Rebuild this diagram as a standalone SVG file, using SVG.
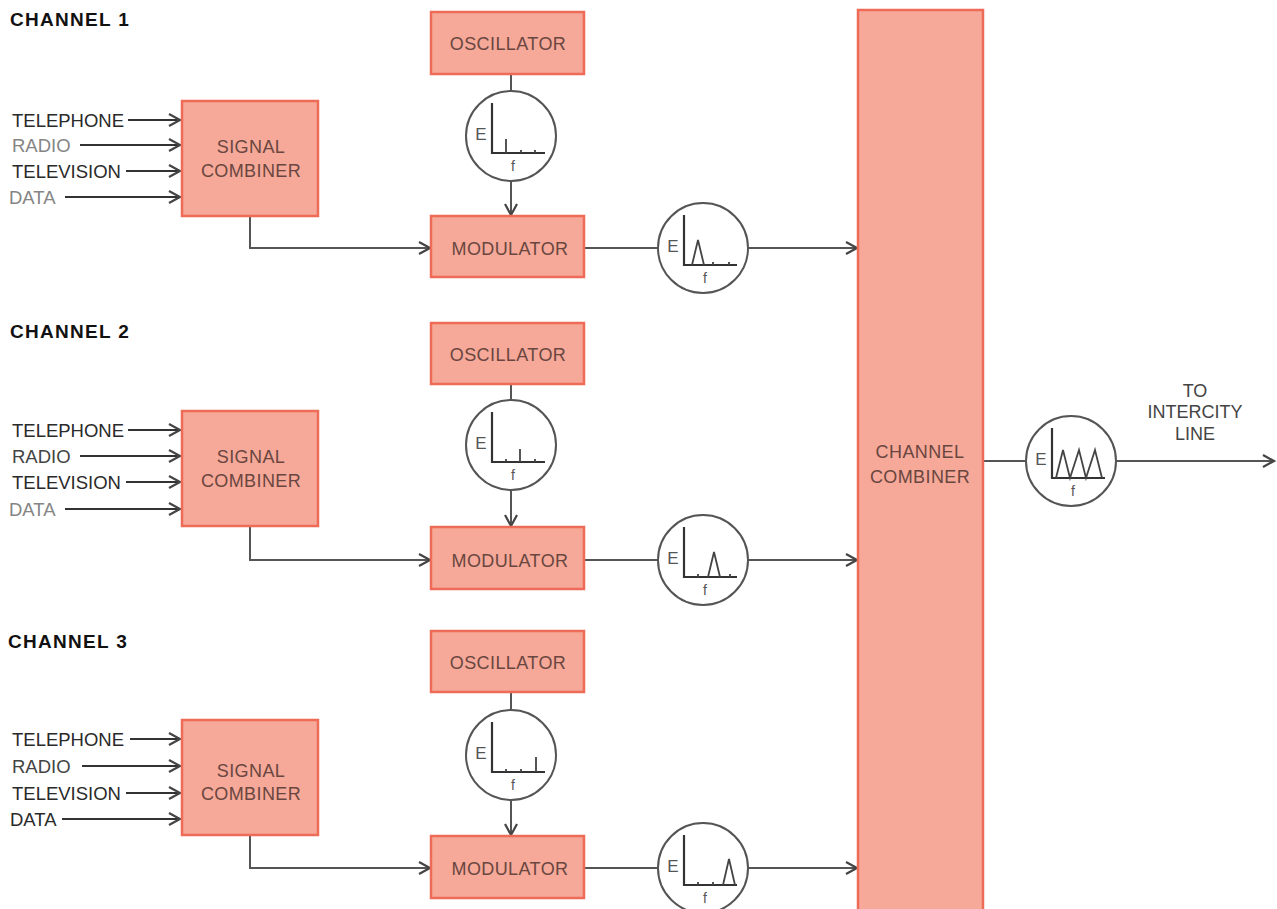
<svg xmlns="http://www.w3.org/2000/svg" width="1277" height="909" viewBox="0 0 1277 909">
<style>
.box{fill:#f6a999;stroke:#ee6b58;stroke-width:2.5}
.bt{font-family:"Liberation Sans",Arial,sans-serif;font-size:18px;fill:#6a4640;text-anchor:middle;letter-spacing:0.4px}
.ch{font-family:"Liberation Sans",Arial,sans-serif;font-size:19px;font-weight:bold;fill:#111;letter-spacing:1.3px}
.lb{font-family:"Liberation Sans",Arial,sans-serif;font-size:18.5px;fill:#2a2a2a}
.lg{fill:#858585}
.lm{fill:#444}
.in{stroke:#333;stroke-width:2.2;fill:none}
.cn{stroke:#555;stroke-width:2;fill:none}
.circ{fill:#fff;stroke:#555;stroke-width:2}
.ax{stroke:#333;stroke-width:2.2;fill:none}
.sp{stroke:#444;stroke-width:1.8;fill:none}
.e{font-family:"Liberation Sans",Arial,sans-serif;font-size:17px;fill:#555;text-anchor:middle}
.f{font-family:"Liberation Sans",Arial,sans-serif;font-size:14px;fill:#555;text-anchor:middle}
.out{font-family:"Liberation Sans",Arial,sans-serif;font-size:18px;fill:#444;text-anchor:middle}
</style>
<defs>
<marker id="ar" markerUnits="userSpaceOnUse" markerWidth="16" markerHeight="16" refX="12" refY="7" orient="auto">
<path d="M1,1 L12,7 L1,13" fill="none" stroke="#444" stroke-width="2.2"/>
</marker>
<g id="axes">
<circle class="circ" cx="0" cy="0" r="45"/>
<path class="ax" d="M-19,-33 V17 H34"/>
<text class="e" x="-30" y="4">E</text>
<text class="f" x="2" y="35">f</text>
</g>
</defs>
<rect width="1277" height="909" fill="#fff"/>

<g id="connectors">
<line class="in" x1="128" y1="120" x2="180" y2="120" marker-end="url(#ar)"/>
<line class="in" x1="80" y1="145" x2="180" y2="145" marker-end="url(#ar)"/>
<line class="in" x1="126" y1="171" x2="180" y2="171" marker-end="url(#ar)"/>
<line class="in" x1="65" y1="197" x2="180" y2="197" marker-end="url(#ar)"/>
<line class="in" x1="128" y1="430" x2="180" y2="430" marker-end="url(#ar)"/>
<line class="in" x1="80" y1="456" x2="180" y2="456" marker-end="url(#ar)"/>
<line class="in" x1="126" y1="482" x2="180" y2="482" marker-end="url(#ar)"/>
<line class="in" x1="65" y1="509" x2="180" y2="509" marker-end="url(#ar)"/>
<line class="in" x1="130" y1="739" x2="180" y2="739" marker-end="url(#ar)"/>
<line class="in" x1="82" y1="766" x2="180" y2="766" marker-end="url(#ar)"/>
<line class="in" x1="126" y1="793" x2="180" y2="793" marker-end="url(#ar)"/>
<line class="in" x1="62" y1="819" x2="180" y2="819" marker-end="url(#ar)"/>

<path class="cn" d="M250,217 V248 H430" marker-end="url(#ar)"/>
<path class="cn" d="M250,527 V560 H430" marker-end="url(#ar)"/>
<path class="cn" d="M250,836 V868 H430" marker-end="url(#ar)"/>
<line class="cn" x1="511" y1="74" x2="511" y2="95"/>
<line class="cn" x1="511" y1="180" x2="511" y2="215" marker-end="url(#ar)"/>
<line class="cn" x1="511" y1="384" x2="511" y2="405"/>
<line class="cn" x1="511" y1="489" x2="511" y2="526" marker-end="url(#ar)"/>
<line class="cn" x1="511" y1="692" x2="511" y2="713"/>
<line class="cn" x1="511" y1="798" x2="511" y2="835" marker-end="url(#ar)"/>
<line class="cn" x1="584" y1="248" x2="660" y2="248"/>
<line class="cn" x1="748" y1="248" x2="857" y2="248" marker-end="url(#ar)"/>
<line class="cn" x1="584" y1="560" x2="660" y2="560"/>
<line class="cn" x1="748" y1="560" x2="857" y2="560" marker-end="url(#ar)"/>
<line class="cn" x1="584" y1="868" x2="660" y2="868"/>
<line class="cn" x1="748" y1="868" x2="857" y2="868" marker-end="url(#ar)"/>
<line class="cn" x1="983" y1="461" x2="1026" y2="461"/>
<line class="cn" x1="1116" y1="461" x2="1274" y2="461" marker-end="url(#ar)"/>
</g>

<g id="ch1-label"><text class="ch" x="10" y="26">CHANNEL 1</text></g>
<g id="ch2-label"><text class="ch" x="10" y="338">CHANNEL 2</text></g>
<g id="ch3-label"><text class="ch" x="8" y="648">CHANNEL 3</text></g>

<g id="ch1-inputs">
<text class="lb" x="12" y="127">TELEPHONE</text>
<text class="lb lg" x="12" y="152">RADIO</text>
<text class="lb" x="12" y="178">TELEVISION</text>
<text class="lb lg" x="9" y="204">DATA</text>
</g>
<g id="ch2-inputs">
<text class="lb" x="12" y="437">TELEPHONE</text>
<text class="lb lm" x="12" y="463">RADIO</text>
<text class="lb" x="12" y="489">TELEVISION</text>
<text class="lb lg" x="9" y="516">DATA</text>
</g>
<g id="ch3-inputs">
<text class="lb" x="12" y="746">TELEPHONE</text>
<text class="lb lm" x="12" y="773">RADIO</text>
<text class="lb" x="12" y="800">TELEVISION</text>
<text class="lb" x="10" y="826">DATA</text>
</g>

<g id="sig1"><rect class="box" x="182" y="101" width="136" height="115"/><text class="bt" x="251" y="153">SIGNAL</text><text class="bt" x="251" y="177">COMBINER</text></g>
<g id="sig2"><rect class="box" x="182" y="411" width="136" height="115"/><text class="bt" x="251" y="463">SIGNAL</text><text class="bt" x="251" y="487">COMBINER</text></g>
<g id="sig3"><rect class="box" x="182" y="720" width="136" height="115"/><text class="bt" x="251" y="777">SIGNAL</text><text class="bt" x="251" y="800">COMBINER</text></g>

<g id="osc1"><rect class="box" x="431" y="12" width="153" height="62"/><text class="bt" x="508" y="50">OSCILLATOR</text></g>
<g id="osc2"><rect class="box" x="431" y="323" width="153" height="61"/><text class="bt" x="508" y="361">OSCILLATOR</text></g>
<g id="osc3"><rect class="box" x="431" y="631" width="153" height="61"/><text class="bt" x="508" y="669">OSCILLATOR</text></g>

<g id="mod1"><rect class="box" x="431" y="216" width="153" height="61"/><text class="bt" x="510" y="255">MODULATOR</text></g>
<g id="mod2"><rect class="box" x="431" y="527" width="153" height="62"/><text class="bt" x="510" y="567">MODULATOR</text></g>
<g id="mod3"><rect class="box" x="431" y="836" width="153" height="62"/><text class="bt" x="510" y="875">MODULATOR</text></g>

<g id="ospec1" transform="translate(511,136)"><use href="#axes"/><path class="sp" d="M-5,17 V3 M10,17 V14 M24,17 V14"/></g>
<g id="ospec2" transform="translate(511,445)"><use href="#axes"/><path class="sp" d="M-5,17 V14 M9,17 V4 M24,17 V14"/></g>
<g id="ospec3" transform="translate(511,755)"><use href="#axes"/><path class="sp" d="M-5,17 V14 M10,17 V14 M25,17 V2"/></g>

<g id="mspec1" transform="translate(703,248)"><use href="#axes"/><path class="sp" d="M-11,17 L-5,-8 L1,17 M10,17 V14 M26,17 V14"/></g>
<g id="mspec2" transform="translate(703,560)"><use href="#axes"/><path class="sp" d="M-5,17 V14 M5,17 L11,-8 L17,17 M27,17 V14"/></g>
<g id="mspec3" transform="translate(703,868)"><use href="#axes"/><path class="sp" d="M-5,17 V14 M10,17 V14 M20,17 L26,-9 L32,17"/></g>

<g id="chcomb"><rect class="box" x="858" y="10" width="125" height="902"/><text class="bt" x="920" y="458">CHANNEL</text><text class="bt" x="920" y="483">COMBINER</text></g>

<g id="outspec" transform="translate(1071,461)"><use href="#axes"/><path class="sp" d="M-15,17 L-8,-11 L-1,17 L8,-11 L15,17 L24,-11 L31,17"/></g>

<g id="out-label">
<text class="out" x="1195" y="397">TO</text>
<text class="out" x="1195" y="418">INTERCITY</text>
<text class="out" x="1195" y="440">LINE</text>
</g>
</svg>
